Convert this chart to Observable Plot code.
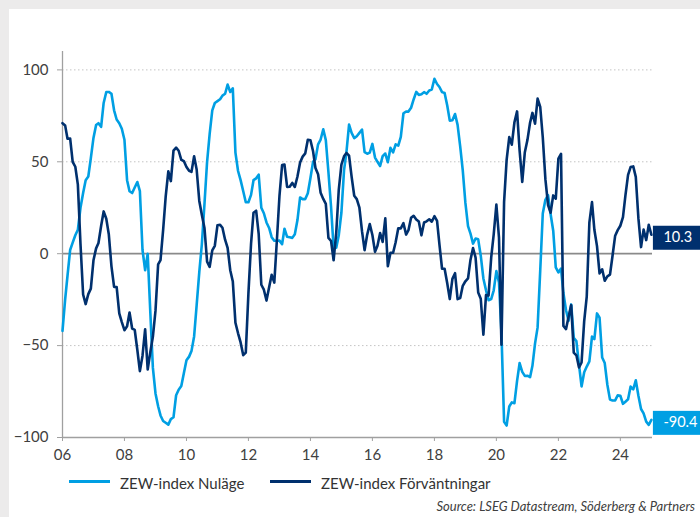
<!DOCTYPE html>
<html>
<head>
<meta charset="utf-8">
<script src="https://cdn.jsdelivr.net/npm/d3@7"></script>
<script src="https://cdn.jsdelivr.net/npm/@observablehq/plot@0.6"></script>
<style>
  html, body { margin: 0; padding: 0; }
  body { width: 700px; height: 517px; background: #ecebeb; position: relative; overflow: hidden; font-family: Lato, "Open Sans", sans-serif; }
  #panel { position: absolute; left: 9px; top: 9px; right: 0; bottom: 0; background: #fff; }
  #chart { position: absolute; left: 0; top: 0; }
  .sw { position: absolute; height: 3px; width: 41px; top: 480px; }
  .lt { position: absolute; top: 473px; line-height: 20px; font-size: 15px; color: #333; white-space: nowrap; }
  #source { position: absolute; right: 5px; top: 497px; line-height: 18px; font-size: 13px; font-style: italic; color: #404040; white-space: nowrap; }
</style>
</head>
<body>
<div id="panel"></div>
<div id="chart"></div>
<div class="sw" id="sw1" style="left:69px"></div>
<div class="lt" style="left:120px">ZEW-index Nuläge</div>
<div class="sw" id="sw2" style="left:270px"></div>
<div class="lt" style="left:321px">ZEW-index Förväntningar</div>
<div id="source">Source: LSEG Datastream, Söderberg &amp; Partners</div>
<script>
// Monthly data, Jan 2006 – Jan 2025
const startYear = 2006;
const nulage = [
  // 2006
  -42, -25, -12, 2, 6, 10, 13, 25, 33, 40, 42, 52,
  // 2007
  63, 70, 71, 69, 82, 88, 88, 87, 78, 73, 71, 68,
  // 2008
  62, 40, 34, 33, 36, 39, 34, 2, -9, 0, -32, -62,
  // 2009
  -76, -83, -88, -91, -92, -93, -90, -89, -77, -74, -72, -65,
  // 2010
  -58, -56, -53, -45, -28, -10, 5, 27, 50, 65, 78, 82,
  // 2011
  83, 84, 86, 87, 92, 88, 90, 55, 45, 40, 34, 28,
  // 2012
  28, 32, 40, 41, 43, 25, 22, 17, 14, 9, 7, 7,
  // 2013
  7.1, 5.2, 13.6, 9.2, 8.9, 8.6, 10.6, 18.3, 30.6, 29.7, 29.7, 32.9,
  // 2014
  41.2, 50.0, 51.3, 59.5, 62.1, 67.7, 61.8, 44.3, 25.4, 3.2, 3.3, 10.1,
  // 2015
  22.4, 45.5, 55.1, 70.2, 65.7, 62.9, 63.9, 65.7, 67.5, 55.2, 54.4, 55.0,
  // 2016
  59.7, 52.3, 50.0, 47.7, 53.1, 54.5, 49.8, 57.6, 55.1, 59.5, 58.8, 63.5,
  // 2017
  76.4, 77.3, 77.3, 79.4, 83.9, 88.0, 86.4, 86.7, 87.9, 87.0, 88.8, 89.3,
  // 2018
  95.2, 92.3, 90.7, 87.9, 87.4, 80.6, 72.4, 72.6, 76.0, 70.1, 58.2, 45.3,
  // 2019
  27.6, 15.0, 11.1, 5.5, 8.2, 7.8, -1.1, -13.5, -19.9, -25.3, -24.7, -19.9,
  // 2020
  -9.5, -15.7, -43.1, -91.5, -93.5, -83.1, -80.9, -81.3, -69.2, -59.5, -64.3, -66.5,
  // 2021
  -66.4, -67.2, -61.0, -48.8, -40.1, -9.1, 21.9, 29.3, 31.9, 21.6, 12.5, -7.4,
  // 2022
  -10.2, -8.1, -21.4, -30.8, -36.5, -27.6, -45.8, -47.6, -60.5, -72.2, -64.5, -61.4,
  // 2023
  -58.6, -45.1, -46.5, -32.5, -34.8, -56.5, -59.5, -71.3, -79.4, -79.9, -79.8, -77.1,
  // 2024
  -77.3, -81.7, -80.5, -79.2, -72.3, -73.8, -68.9, -77.3, -84.5, -86.9, -91.4, -93.1,
  // 2025
  -90.4
];
const forvantningar = [
  // 2006
  71.0, 69.8, 62.5, 62.7, 50.0, 47.3, 37.6, 5.3, -22.2, -27.4, -22.0, -19.0,
  // 2007
  -3.6, 2.9, 5.8, 15.1, 23.0, 19.0, 10.4, -6.9, -18.1, -18.1, -32.5, -37.2,
  // 2008
  -41.6, -39.5, -32.0, -40.7, -41.4, -52.4, -63.9, -55.5, -41.1, -63.0, -53.5, -45.2,
  // 2009
  -31.0, -5.8, -3.5, 13.0, 31.1, 44.8, 39.5, 56.1, 57.7, 56.0, 51.1, 50.4,
  // 2010
  47.2, 45.1, 44.5, 53.0, 45.8, 28.7, 21.2, 14.0, -4.3, -7.2, 1.8, 4.3,
  // 2011
  15.4, 15.7, 14.1, 7.6, 3.1, -9.0, -15.1, -37.6, -43.3, -48.3, -55.2, -53.8,
  // 2012
  -21.6, 5.4, 22.3, 23.4, 10.8, -16.9, -19.6, -25.5, -18.2, -11.5, -15.7, 6.9,
  // 2013
  31.5, 48.2, 48.5, 36.3, 36.4, 38.5, 36.3, 42.0, 49.6, 52.8, 54.6, 62.0,
  // 2014
  61.7, 55.7, 46.6, 43.2, 33.1, 29.8, 27.1, 8.6, 6.9, -3.6, 11.5, 34.9,
  // 2015
  48.4, 53.0, 54.8, 53.3, 41.9, 31.5, 29.7, 25.0, 12.1, 1.9, 10.4, 16.1,
  // 2016
  10.2, 1.0, 4.3, 11.2, 6.4, 19.2, -6.8, 0.5, 0.5, 6.2, 13.8, 13.8,
  // 2017
  16.6, 10.4, 12.8, 19.5, 20.6, 18.6, 17.5, 10.0, 17.0, 17.6, 18.7, 17.4,
  // 2018
  20.4, 17.8, 5.1, -8.2, -8.2, -16.1, -24.7, -13.7, -10.6, -24.7, -24.1, -17.5,
  // 2019
  -15.0, -13.4, -3.6, 3.1, -2.1, -21.1, -24.5, -44.1, -22.5, -22.8, -2.1, 10.7,
  // 2020
  26.7, 8.7, -49.5, 28.2, 51.0, 63.4, 59.3, 71.5, 77.4, 56.1, 39.0, 55.0,
  // 2021
  61.8, 71.2, 76.6, 70.7, 84.4, 79.8, 63.3, 40.4, 26.5, 22.3, 31.7, 29.9,
  // 2022
  51.7, 54.3, -39.3, -41.0, -34.3, -28.0, -53.8, -55.3, -61.9, -59.2, -36.7, -23.3,
  // 2023
  16.9, 28.1, 13.0, 4.1, -10.7, -8.5, -14.7, -12.3, -11.4, -1.1, 9.8, 12.8,
  // 2024
  15.2, 19.9, 31.7, 42.9, 47.1, 47.5, 41.8, 19.2, 3.6, 13.1, 7.4, 15.7,
  // 2025
  10.3
];
const seriesNames = ["ZEW-index Nuläge", "ZEW-index Förväntningar"];
const seriesColors = ["#009fe3", "#00306e"];
const tickYears = [2006, 2008, 2010, 2012, 2014, 2016, 2018, 2020, 2022, 2024];
const yTicks = [-100, -50, 0, 50, 100];
const gridValues = [100, 50, -50];

const monthDate = i => new Date(Date.UTC(startYear, i, 1));
const rows = [];
nulage.forEach((v, i) => rows.push({date: monthDate(i), value: v, series: seriesNames[0]}));
forvantningar.forEach((v, i) => rows.push({date: monthDate(i), value: v, series: seriesNames[1]}));
const light = rows.filter(d => d.series === seriesNames[0]);
const dark = rows.filter(d => d.series === seriesNames[1]);
const endLabels = [dark[dark.length - 1], light[light.length - 1]];
const endColors = [seriesColors[1], seriesColors[0]];
const xStart = monthDate(0);
const xEnd = new Date(Date.UTC(2025, 0, 14));

document.getElementById("sw1").style.background = seriesColors[0];
document.getElementById("sw2").style.background = seriesColors[1];

const chart = Plot.plot({
  width: 700,
  height: 470,
  marginLeft: 62,
  marginRight: 48,
  marginTop: 51,
  marginBottom: 33,
  style: {background: "transparent", fontFamily: "Lato, 'Open Sans', sans-serif", color: "#404040"},
  x: {type: "utc", domain: [xStart, xEnd]},
  y: {domain: [-100, 110]},
  marks: [
    Plot.ruleY(gridValues, {stroke: "#c4c4c4", strokeDasharray: "1.5,2.5", strokeWidth: 1}),
    Plot.ruleY([0], {stroke: "#8a8a8a", strokeWidth: 1.8}),
    Plot.ruleY([-100], {stroke: "#a0a0a0", strokeWidth: 1.3}),
    Plot.ruleX([xStart], {stroke: "#a0a0a0", strokeWidth: 1.3}),
    Plot.axisX({
      ticks: tickYears.map(y => new Date(Date.UTC(y, 0, 1))),
      tickFormat: d => String(d.getUTCFullYear()).slice(2),
      tickSize: 4, tickPadding: 8, stroke: "#a0a0a0", fill: "#404040",
      fontSize: 15, label: null
    }),
    Plot.axisY({
      ticks: yTicks, tickSize: 5, tickPadding: 9, stroke: "#a0a0a0", fill: "#404040",
      fontSize: 15, label: null
    }),
    Plot.line(light, {x: "date", y: "value", stroke: seriesColors[0], strokeWidth: 2.6, strokeLinejoin: "round"}),
    Plot.line(dark, {x: "date", y: "value", stroke: seriesColors[1], strokeWidth: 2.6, strokeLinejoin: "round"}),
    Plot.text(endLabels, {
      x: "date", y: "value",
      text: d => d.value.toFixed(1),
      fill: "white", fontSize: 14.5, textAnchor: "start", dx: 12, dy: 3,
      render(index, scales, values, dimensions, context, next) {
        const g = next(index, scales, values, dimensions, context);
        const wrap = d3.create("svg:g");
        for (const i of index) {
          wrap.append("rect")
            .attr("x", values.x[i] + 2)
            .attr("y", values.y[i] - 8.5)
            .attr("width", 70)
            .attr("height", 24)
            .attr("fill", endColors[i]);
        }
        wrap.node().appendChild(g);
        return wrap.node();
      }
    })
  ]
});
document.getElementById("chart").appendChild(chart);
</script>
</body>
</html>
